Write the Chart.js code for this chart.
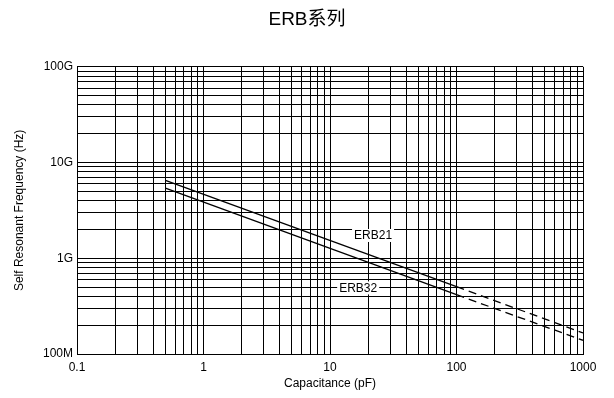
<!DOCTYPE html>
<html>
<head>
<meta charset="utf-8">
<script src="https://cdn.jsdelivr.net/npm/chart.js@4/dist/chart.umd.min.js"></script>
<style>
  html, body { margin: 0; padding: 0; background: #fff; }
  #c { display: block; }
</style>
</head>
<body>
<canvas id="c" width="614" height="398"></canvas>
<script>
// ---- data ----
const capacitance = [0.5, 100, 1000];          // pF
const erb21 = [6.5e9, 5.05e8, 1.66e8];         // Hz
const erb32 = [5.4e9, 4.16e8, 1.39e8];         // Hz
const solidUntil = 100;                        // beyond this the lines are dashed

const xDecades = [0.1, 1, 10, 100, 1000];
const xTickLabels = ['0.1', '1', '10', '100', '1000'];
const yDecades = [1e8, 1e9, 1e10, 1e11];
const yTickLabels = ['100M', '1G', '10G', '100G'];

const seriesNames = ['ERB21', 'ERB32'];
const labelX = [21.9, 16.7];
const labelY = [1.73e9, 4.9e8];

// ---- helpers ----
function gridValues(decades) {
  const out = [];
  for (let i = 0; i < decades.length - 1; i++) {
    for (let m = 1; m <= 9; m++) out.push(+(decades[i] * m).toPrecision(6));
  }
  out.push(decades[decades.length - 1]);
  return out;
}
function decadeLabel(value, decades, labels) {
  for (let i = 0; i < decades.length; i++) {
    if (Math.abs(value / decades[i] - 1) < 1e-6) return labels[i];
  }
  return '';
}
const tickFont = { family: '"Liberation Sans", Arial, sans-serif', size: 12 };
const titleFont = { family: '"Liberation Sans", Arial, sans-serif', size: 12 };

const seriesLabelPlugin = {
  id: 'seriesLabels',
  afterDatasetsDraw(chart) {
    const { ctx, scales: { x, y } } = chart;
    ctx.save();
    ctx.font = '12px "Liberation Sans", Arial, sans-serif';
    ctx.textAlign = 'center';
    ctx.textBaseline = 'middle';
    seriesNames.forEach((name, i) => {
      const px = x.getPixelForValue(labelX[i]);
      const py = y.getPixelForValue(labelY[i]);
      const w = ctx.measureText(name).width + 4;
      const h = 13;
      ctx.fillStyle = '#fff';
      ctx.fillRect(px - w / 2, py - h / 2, w, h);
      ctx.fillStyle = '#000';
      ctx.fillText(name, px, py + 0.5);
    });
    ctx.restore();
  }
};

const dashSeg = ctx => (ctx.p0.parsed.x >= solidUntil ? [8, 5] : undefined);

function makeSeries(name, values) {
  return {
    label: name,
    data: capacitance.map((c, i) => ({ x: c, y: values[i] })),
    borderColor: '#000',
    borderWidth: 1.3,
    pointRadius: 0,
    fill: false,
    tension: 0,
    yAxisID: 'y',
    segment: { borderDash: dashSeg }
  };
}

new Chart(document.getElementById('c'), {
  type: 'line',
  data: { datasets: [makeSeries(seriesNames[0], erb21), makeSeries(seriesNames[1], erb32)] },
  options: {
    responsive: false,
    animation: false,
    devicePixelRatio: 1,
    layout: { padding: { left: 0, right: 0, top: 0, bottom: 0 } },
    plugins: {
      legend: { display: false },
      tooltip: { enabled: false },
      title: {
        display: true,
        text: 'ERB系列',
        color: '#000',
        font: { family: '"Liberation Sans", "Noto Sans CJK SC", sans-serif', size: 19, weight: 'normal' },
        padding: { top: 8, bottom: 36 }
      }
    },
    scales: {
      x: {
        type: 'logarithmic',
        min: xDecades[0],
        max: xDecades[xDecades.length - 1],
        afterBuildTicks(scale) {
          scale.ticks = gridValues(xDecades).map(v => ({ value: v }));
        },
        afterFit(scale) { scale.height = 44; },
        ticks: {
          autoSkip: false,
          maxRotation: 0,
          color: '#000',
          font: tickFont,
          padding: 6,
          callback: v => decadeLabel(v, xDecades, xTickLabels)
        },
        grid: { color: '#000', lineWidth: 1, drawTicks: false },
        border: { display: true, color: '#000', width: 1 },
        title: {
          display: true,
          text: 'Capacitance (pF)',
          color: '#000',
          font: titleFont,
          padding: { top: 0, bottom: 7 }
        }
      },
      y: {
        type: 'logarithmic',
        min: yDecades[0],
        max: yDecades[yDecades.length - 1],
        afterBuildTicks(scale) {
          scale.ticks = gridValues(yDecades).map(v => ({ value: v }));
        },
        afterFit(scale) { scale.width = 77; },
        ticks: {
          autoSkip: false,
          color: '#000',
          font: tickFont,
          padding: 4,
          callback: v => decadeLabel(v, yDecades, yTickLabels)
        },
        grid: { color: '#000', lineWidth: 1, drawTicks: false },
        border: { display: true, color: '#000', width: 1 },
        title: {
          display: true,
          text: 'Self Resonant Frequency (Hz)',
          color: '#000',
          font: titleFont,
          padding: { top: 12, bottom: 0 }
        }
      },
      yRightSpacer: {
        type: 'linear',
        position: 'right',
        display: true,
        afterFit(scale) { scale.width = 31; },
        ticks: { display: false },
        grid: { display: false, drawTicks: false },
        border: { display: false }
      }
    }
  },
  plugins: [seriesLabelPlugin]
});
</script>
</body>
</html>
